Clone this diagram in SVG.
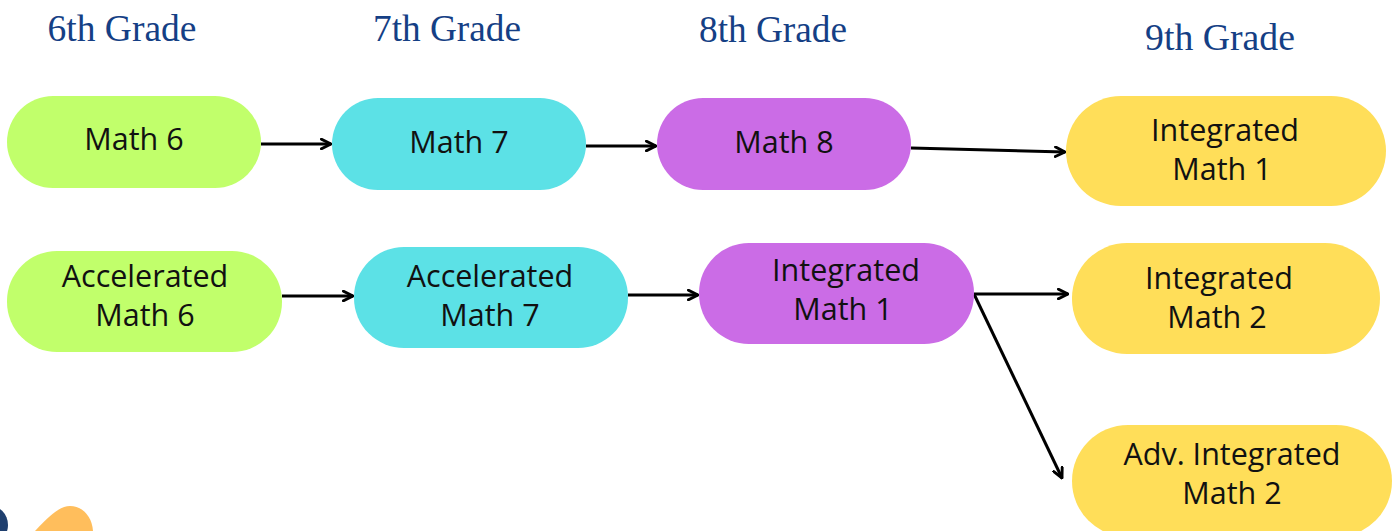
<svg xmlns="http://www.w3.org/2000/svg" width="1395" height="531" viewBox="0 0 1395 531">
<style>
.hdr{font-family:"Liberation Serif",serif;font-size:37px;fill:#153f85;text-anchor:middle}
.lbl{font-family:"Open Sans","Liberation Sans",sans-serif;font-size:30.5px;fill:#111;text-anchor:middle}
.g6{fill:#c1ff6b}.g7{fill:#5ce1e6}.g8{fill:#cb6ce6}.g9{fill:#ffde59}
.edge{stroke:#000;stroke-width:3;fill:none;marker-end:url(#ah)}
</style>
<defs>
<marker id="ah" viewBox="0 0 10 10" refX="9" refY="5" markerWidth="4" markerHeight="4" orient="auto" markerUnits="strokeWidth">
<path d="M1,1 L9,5 L1,9" fill="none" stroke="#000" stroke-width="2.4" stroke-linecap="round" stroke-linejoin="round"/>
</marker>
</defs>
<rect width="1395" height="531" fill="#fff"/>
<g id="headers">
<text class="hdr" x="122" y="41" textLength="149" lengthAdjust="spacingAndGlyphs">6th Grade</text>
<text class="hdr" x="447" y="41" textLength="148" lengthAdjust="spacingAndGlyphs">7th Grade</text>
<text class="hdr" x="773" y="42" textLength="148" lengthAdjust="spacingAndGlyphs">8th Grade</text>
<text class="hdr" x="1220" y="50" textLength="150" lengthAdjust="spacingAndGlyphs">9th Grade</text>
</g>
<g id="connectors">
<line class="edge" x1="261" y1="144" x2="331" y2="144"/>
<line class="edge" x1="586" y1="146" x2="656" y2="146"/>
<line class="edge" x1="911" y1="148" x2="1065" y2="152"/>
<line class="edge" x1="282" y1="296" x2="353" y2="296"/>
<line class="edge" x1="628" y1="295" x2="698" y2="295"/>
<line class="edge" x1="974" y1="294" x2="1068" y2="294"/>
<line class="edge" x1="974" y1="294" x2="1062" y2="478"/>
</g>
<g id="n-math6"><rect class="g6" x="7" y="96" width="254" height="92" rx="46"/><text class="lbl" x="134" y="150">Math 6</text></g>
<g id="n-math7"><rect class="g7" x="332" y="98" width="254" height="92" rx="46"/><text class="lbl" x="459" y="153">Math 7</text></g>
<g id="n-math8"><rect class="g8" x="657" y="98" width="254" height="92" rx="46"/><text class="lbl" x="784" y="153">Math 8</text></g>
<g id="n-im1-9"><rect class="g9" x="1066" y="96" width="320" height="110" rx="55"/><text class="lbl" x="1225" y="141">Integrated</text><text class="lbl" x="1222" y="180">Math 1</text></g>
<g id="n-acc6"><rect class="g6" x="7" y="251" width="275" height="101" rx="50"/><text class="lbl" x="145" y="287">Accelerated</text><text class="lbl" x="145" y="326">Math 6</text></g>
<g id="n-acc7"><rect class="g7" x="354" y="247" width="274" height="101" rx="50"/><text class="lbl" x="490" y="287">Accelerated</text><text class="lbl" x="490" y="326">Math 7</text></g>
<g id="n-im1-8"><rect class="g8" x="699" y="243" width="275" height="101" rx="50"/><text class="lbl" x="846" y="281">Integrated</text><text class="lbl" x="843" y="320">Math 1</text></g>
<g id="n-im2"><rect class="g9" x="1072" y="243" width="308" height="111" rx="55"/><text class="lbl" x="1219" y="289">Integrated</text><text class="lbl" x="1217" y="328">Math 2</text></g>
<g id="n-adv"><rect class="g9" x="1072" y="425" width="320" height="112" rx="56"/><text class="lbl" x="1232" y="465">Adv. Integrated</text><text class="lbl" x="1232" y="504">Math 2</text></g>
<g id="deco">
<circle cx="-12" cy="525" r="20" fill="#1f3f6e"/>
<path d="M35,531 C50,515 60,506 70,506 C82,506 92,516 93,531 Z" fill="#ffbe5c"/>
</g>
</svg>
